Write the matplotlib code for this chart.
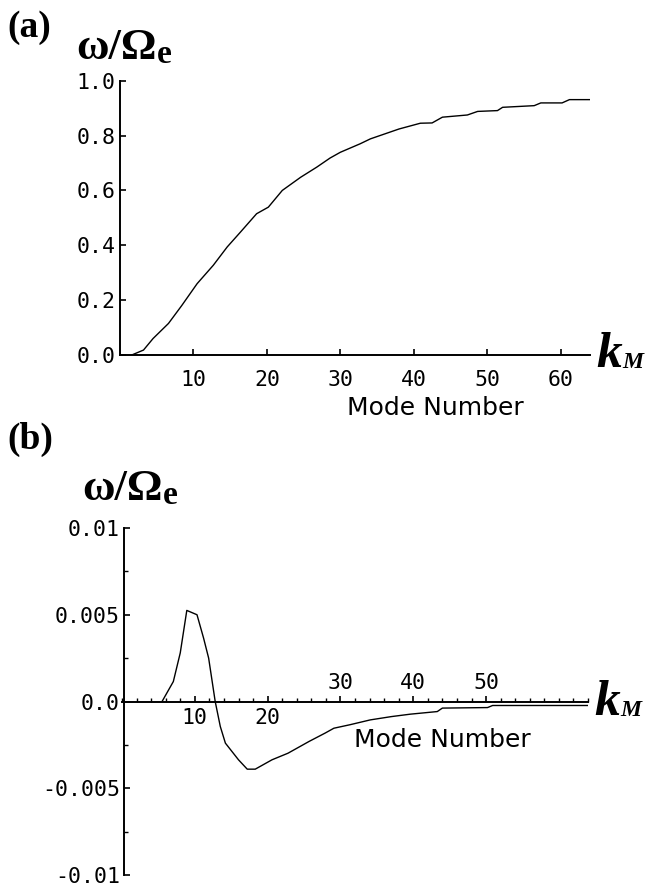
import numpy as np
import matplotlib
matplotlib.use("Agg")
import matplotlib.pyplot as plt
from matplotlib.ticker import MultipleLocator, FixedLocator

# panel (a): omega / Omega_e against mode number
mode_a = [1.6, 3.2, 4.5, 6.6, 8.4, 10.5, 12.7, 14.6, 16.4, 18.6, 20.2, 22.1,
          24.6, 26.8, 28.6, 30.0, 32.7, 34.1, 38.0, 40.9, 42.5, 43.9, 47.3,
          48.7, 51.4, 52.1, 56.4, 57.3, 60.2, 61.2, 64.2]
omega_a = [0.0, 0.018, 0.06, 0.115, 0.18, 0.26, 0.327, 0.394, 0.448, 0.515,
           0.539, 0.60, 0.648, 0.685, 0.718, 0.739, 0.77, 0.788, 0.824, 0.845,
           0.846, 0.867, 0.875, 0.888, 0.891, 0.903, 0.909, 0.919, 0.919,
           0.931, 0.931]

# panel (b)
mode_b = [5.5, 7.05, 8.0, 8.9, 10.3, 11.2, 11.9, 12.8, 13.5, 14.2, 16.0,
          17.2, 18.3, 20.6, 22.8, 25.7, 27.9, 29.1, 31.3, 34.1, 37.0, 39.6,
          43.3, 44.0, 50.2, 50.9, 64.0]
omega_b = [0.0, 0.00115, 0.0028, 0.00525, 0.005, 0.00366, 0.0025, 0.0,
           -0.00144, -0.0024, -0.00336, -0.0039, -0.0039, -0.00336,
           -0.00298, -0.0023, -0.00182, -0.00154, -0.00134, -0.00106,
           -0.00087, -0.00073, -0.00058, -0.00038, -0.00035, -0.00023,
           -0.00023]

yticks_a = [0.0, 0.2, 0.4, 0.6, 0.8, 1.0]
xticks_a = [10, 20, 30, 40, 50, 60]
yticks_b = [-0.01, -0.005, 0.0, 0.005, 0.01]
ylabels_b = ["-0.01", "-0.005", "0.0", "0.005", "0.01"]
xlabels_below_b = [10, 20]
xlabels_above_b = [30, 40, 50]

W, H = 647, 888
MONO = "DejaVu Sans Mono"
SERIF = "Liberation Serif"


def box(left, right, top, bottom):
    return [left / W, 1 - bottom / H, (right - left) / W, (bottom - top) / H]


def fpos(x, y):
    return x / W, 1 - y / H


def style_axes(ax):
    for s in ["top", "right"]:
        ax.spines[s].set_visible(False)
    for s in ["left", "bottom"]:
        ax.spines[s].set_linewidth(1.4)
    ax.tick_params(which="both", direction="in", color="black")
    ax.tick_params(which="major", length=4, width=1.2)
    ax.tick_params(which="minor", length=3, width=1.0)
    ax.patch.set_alpha(0)


def omega_label(x, y):
    # ω/Ω with a lowered bold e
    fig.text(*fpos(x, y), "ω/Ω", family=SERIF, weight="bold", fontsize=32,
             va="baseline", ha="left")
    fig.text(*fpos(x + 81, y + 4), "e", family=SERIF, weight="bold",
             fontsize=24, va="baseline", ha="left")


def km_label(x, y):
    fig.text(*fpos(x, y), "k", family=SERIF, weight="bold", style="italic",
             fontsize=37, va="baseline", ha="left")
    fig.text(*fpos(x + 26, y + 1), "M", family=SERIF, weight="bold",
             style="italic", fontsize=17, va="baseline", ha="left")


fig = plt.figure(figsize=(W / 100, H / 100), dpi=100)

# ---- (a)
ax1 = fig.add_axes(box(120, 590, 80.7, 355))
ax1.plot(mode_a, omega_a, color="black", lw=1.0)
ax1.set_xlim(0, 64)
ax1.set_ylim(0, 1.0)
style_axes(ax1)
ax1.set_yticks(yticks_a)
ax1.set_yticklabels([f"{v:.1f}" for v in yticks_a], family=MONO, fontsize=15.5)
ax1.set_xticks(xticks_a)
ax1.set_xticklabels([str(v) for v in xticks_a], family=MONO, fontsize=15.5)
ax1.tick_params(axis="y", pad=3)
ax1.tick_params(axis="x", pad=11)
ax1.spines["left"].set_bounds(0, 1.0)

fig.text(*fpos(7, 10), "(a)", family=SERIF, weight="bold", fontsize=27,
         va="top", ha="left")
omega_label(76, 59)
km_label(596, 367)
fig.text(*fpos(435, 415), "Mode Number", family="DejaVu Sans", fontsize=18,
         va="baseline", ha="center")

# ---- (b)
ax2 = fig.add_axes(box(122, 588, 528, 875))
ax2.plot(mode_b, omega_b, color="black", lw=1.0)
ax2.set_xlim(0, 64)
ax2.set_ylim(-0.01, 0.01)
style_axes(ax2)
ax2.spines["bottom"].set_position(("data", 0))
ax2.spines["left"].set_position(("data", 0.3))
ax2.set_yticks(yticks_b)
ax2.set_yticklabels(ylabels_b, family=MONO, fontsize=15.5)
ax2.yaxis.set_minor_locator(FixedLocator([-0.0075, -0.0025, 0.0025, 0.0075]))
ax2.set_xticks([10, 20, 30, 40, 50])
ax2.set_xticklabels([])
ax2.xaxis.set_minor_locator(MultipleLocator(2))
ax2.tick_params(axis="y", pad=3)
for v in xlabels_below_b:
    ax2.annotate(str(v), (v, 0), xytext=(0, -5), textcoords="offset points",
                 ha="center", va="top", family=MONO, fontsize=15.5)
for v in xlabels_above_b:
    ax2.annotate(str(v), (v, 0), xytext=(0, 6), textcoords="offset points",
                 ha="center", va="bottom", family=MONO, fontsize=15.5)

fig.text(*fpos(7, 422), "(b)", family=SERIF, weight="bold", fontsize=27,
         va="top", ha="left")
omega_label(82, 500)
km_label(594, 715)
fig.text(*fpos(442, 747), "Mode Number", family="DejaVu Sans", fontsize=18,
         va="baseline", ha="center")

fig.savefig("out.png", dpi=100)
